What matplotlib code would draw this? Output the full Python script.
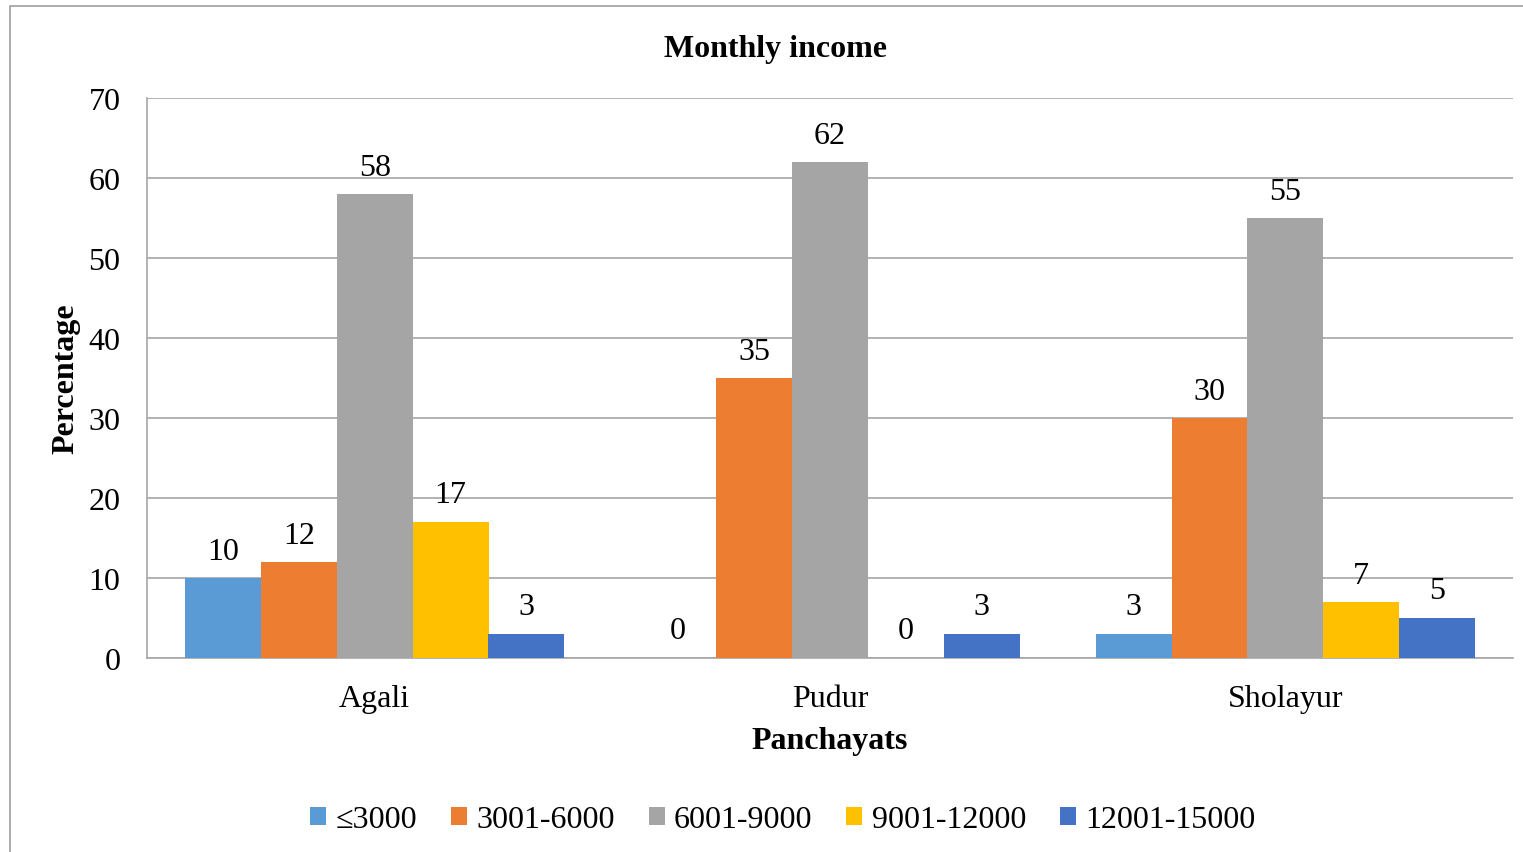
import numpy as np
import matplotlib
matplotlib.use("Agg")
import matplotlib.pyplot as plt
from matplotlib.patches import Rectangle

# Data
panchayats = ["Agali", "Pudur", "Sholayur"]
income_groups = ["\u22643000", "3001-6000", "6001-9000", "9001-12000", "12001-15000"]
le_3000 = [10, 0, 3]
r3001_6000 = [12, 35, 30]
r6001_9000 = [58, 62, 55]
r9001_12000 = [17, 0, 7]
r12001_15000 = [3, 3, 5]
series = [le_3000, r3001_6000, r6001_9000, r9001_12000, r12001_15000]
colors = ["#5B9BD5", "#ED7D31", "#A5A5A5", "#FFC000", "#4472C4"]

plt.rcParams['font.family'] = ['Liberation Serif', 'DejaVu Serif']
FS = 23

fig = plt.figure(figsize=(15.23, 8.53), dpi=100)
ax = fig.add_axes([147 / 1523, 1 - 659 / 853, (1513 - 147) / 1523, (659 - 99) / 853])

# outer chart border
fig.patches.append(Rectangle((10 / 1523, -0.1), 1.2, 1.1 - 7 / 853, transform=fig.transFigure,
                             fill=False, edgecolor="#A6A6A6", linewidth=1.3))

x = np.arange(len(panchayats))
width = 1 / 6
for i, (vals, name, col) in enumerate(zip(series, income_groups, colors)):
    bars = ax.bar(x + (i - 2) * width, vals, width, color=col, label=name, zorder=3)
    ax.bar_label(bars, padding=9, fontsize=FS)

ax.set_xlim(-0.5, 2.5)
ax.set_ylim(0, 70)
ax.set_yticks(range(0, 71, 10))
ax.set_xticks(x)
ax.set_xticklabels(panchayats)
ax.tick_params(axis="both", length=0, labelsize=FS)
ax.tick_params(axis="y", pad=19)
ax.tick_params(axis="x", pad=19)
ax.grid(axis="y", color="#A6A6A6", linewidth=1.2, zorder=0)
for s in ["top", "right"]:
    ax.spines[s].set_visible(False)
for s in ["left", "bottom"]:
    ax.spines[s].set_color("#A6A6A6")
    ax.spines[s].set_linewidth(1.2)

fig.text(776 / 1523, 1 - 50 / 853, "Monthly income", fontsize=FS, fontweight="bold",
         ha="center", va="center")
ax.set_xlabel("Panchayats", fontsize=FS, fontweight="bold", labelpad=9)
ax.set_ylabel("Percentage", fontsize=FS, fontweight="bold", labelpad=6)

fig.legend(loc="center", bbox_to_anchor=(0.514, 1 - 821 / 853), ncol=5, frameon=False,
           fontsize=FS, handlelength=0.5, handleheight=0.5, handletextpad=0.3,
           columnspacing=1.05)

fig.savefig("out.png", dpi=100)
